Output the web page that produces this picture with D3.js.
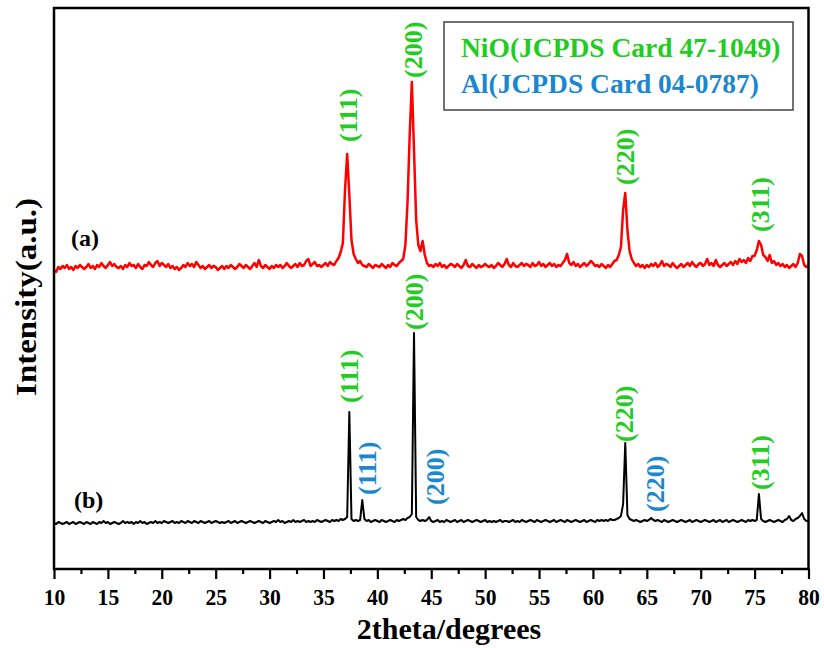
<!DOCTYPE html>
<html><head><meta charset="utf-8">
<script src="https://cdn.jsdelivr.net/npm/d3@7"></script>
<style>
body{margin:0;background:#fff}
svg{display:block}
text{font-family:"Liberation Serif","Times New Roman",serif;font-weight:bold}
</style>
</head><body>
<svg id="chart" width="824" height="648"></svg>
<script>
// ---------------- DATA ----------------
// 2theta scan: start and step of the sampling grid (degrees)
const thetaStart = 10;
const thetaStep = 0.2;

// (a) red pattern, intensity (a.u.), one value per 0.2 deg from 10 to 80
const intensityA = [
 90,86,96,92,98, 94,100,92,96,90, 98,94,100,96,92, 96,102,94,98,92,
 100,96,104,98,94, 100,106,98,102,96, 94,98,92,100,96, 104,98,100,94,102,
 96,92,100,98,106, 100,96,104,108,98, 104,100,96,102,94, 98,92,96,90,94,
 100,96,104,98,102, 96,106,100,94,98, 92,96,100,94,98, 96,90,94,98,92,
 98,94,100,96,92, 96,102,98,94,100, 96,92,98,104,96, 110,98,94,100,96,
 92,98,94,100,96, 100,94,98,104,98, 94,98,102,96,104, 98,100,108,112,98,
 102,106,98,100,96, 100,104,98,106,102, 100,108,114,126,144, 250,322,240,150,122,
 112,104,108,100,98, 96,102,98,94,100, 98,96,102,98,94, 100,96,104,100,98,
 104,108,112,140,226, 360,466,330,190,140, 128,148,120,104,98, 100,96,102,98,104,
 96,100,94,98,102, 100,96,102,98,94, 100,110,98,96,102, 98,94,100,96,98,
 102,98,96,100,94, 98,104,100,96,102, 112,100,96,104,98, 96,100,104,98,102,
 100,96,104,98,100, 106,98,102,96,100, 104,98,102,96,100, 98,104,110,122,104,
 100,106,98,102,96, 100,104,98,102,108, 104,98,100,96,102, 98,94,100,96,102,
 108,110,120,136,210, 244,170,128,112,104, 98,102,96,100,94, 100,96,102,98,104,
 96,100,108,98,102, 100,96,104,98,94, 98,102,96,100,104, 98,106,100,96,102,
 104,98,102,112,100, 104,98,110,100,96, 100,104,98,102,106, 100,108,102,112,106,
 110,104,114,108,118, 118,130,148,140,120, 116,108,120,104,108, 100,104,98,102,96,
 100,94,98,102,96, 104,122,118,100,96, 98
];

// (b) black pattern, intensity (a.u.), one value per 0.2 deg from 10 to 80
const intensityB = [
 92,90,94,92,90, 92,94,90,92,94, 90,92,94,92,90, 94,92,90,94,92,
 90,94,92,96,92, 94,90,92,94,92, 90,92,96,92,94, 92,94,90,94,92,
 96,92,94,90,92, 94,92,96,92,94, 92,96,94,92,94, 96,92,94,92,96,
 94,92,96,94,92, 96,94,92,96,94, 92,94,96,92,94, 96,94,92,94,92,
 94,96,92,94,96, 92,94,96,94,92, 94,96,94,92,94, 96,94,92,96,94,
 92,94,96,94,98, 94,96,92,94,96, 94,98,94,96,94, 96,98,94,96,94,
 96,94,98,96,94, 96,98,96,94,98, 96,98,96,100,98, 100,104,314,100,96,
 98,96,98,138,100, 96,98,94,96,98, 96,94,98,96,94, 96,98,96,94,98,
 96,98,100,98,102, 104,110,472,104,98, 96,98,96,98,104, 96,94,96,98,94,
 96,94,98,96,94, 96,98,94,96,98, 94,96,98,96,94, 96,98,96,94,96,
 98,94,96,94,96, 94,96,98,94,96, 96,94,96,98,94, 96,94,98,96,94,
 96,98,96,94,98, 96,94,96,98,96, 94,96,98,94,96, 98,96,94,98,96,
 94,96,98,96,94, 96,98,94,96,98, 96,94,98,96,98, 96,98,96,100,98,
 98,100,102,106,130, 252,108,100,98,96, 98,96,94,96,98, 96,98,102,98,96,
 98,96,94,98,96, 94,96,98,96,94, 96,98,96,94,96, 98,94,96,98,96,
 94,96,98,96,94, 96,98,94,96,98, 94,96,98,94,96, 98,96,94,96,98,
 96,94,98,96,98, 96,98,150,100,96, 94,96,98,96,94, 96,98,96,94,98,
 100,106,98,96,100, 102,106,112,100,96, 96
];

// vertical offset of pattern (a) above pattern (b), a.u.
const offsetA = 508;

// peak indexing (2theta)
const peaksA = [
  {theta: 37.24, hkl: "(111)", phase: "NiO"},
  {theta: 43.27, hkl: "(200)", phase: "NiO"},
  {theta: 63.0,  hkl: "(220)", phase: "NiO"},
  {theta: 75.5,  hkl: "(311)", phase: "NiO"}
];
const peaksB = [
  {theta: 37.34, hkl: "(111)", phase: "NiO"},
  {theta: 38.5,  hkl: "(111)", phase: "Al"},
  {theta: 43.37, hkl: "(200)", phase: "NiO"},
  {theta: 44.76, hkl: "(200)", phase: "Al"},
  {theta: 62.9,  hkl: "(220)", phase: "NiO"},
  {theta: 65.2,  hkl: "(220)", phase: "Al"},
  {theta: 75.5,  hkl: "(311)", phase: "NiO"}
];

const xTicks = [10,15,20,25,30,35,40,45,50,55,60,65,70,75,80];
const xMinorTicks = [12.5,17.5,22.5,27.5,32.5,37.5,42.5,47.5,52.5,57.5,62.5,67.5,72.5,77.5];
const seriesNames = ["(a)", "(b)"];
const legendLabels = ["NiO(JCPDS Card 47-1049)", "Al(JCPDS Card 04-0787)"];
const legendPhases = ["NiO", "Al"];
const xTitle = "2theta/degrees";
const yTitle = "Intensity(a.u.)";

// ---------------- LAYOUT / STYLE ----------------
const phaseColor = {NiO: "#22cc22", Al: "#1b87cf"};
const gapsA = [12, 4, 8, 9];
const gapsB = [9, 5, 3, 12, 1, 6, 4];
const plot = {left: 54, right: 808.5, top: 8, bottom: 569};

const svg = d3.select("#chart");
const x = d3.scaleLinear().domain([10, 80]).range([plot.left, plot.right]);
const y = d3.scaleLinear().domain([0, 1122]).range([plot.bottom, plot.top]);

const seriesA = intensityA.map((v, i) => ({t: thetaStart + i * thetaStep, v: v + offsetA}));
const seriesB = intensityB.map((v, i) => ({t: thetaStart + i * thetaStep, v: v}));

const line = d3.line().x(d => x(d.t)).y(d => y(d.v));

svg.append("path").datum(seriesB).attr("d", line)
  .attr("fill", "none").attr("stroke", "#000").attr("stroke-width", 2).attr("stroke-linejoin", "round");
svg.append("path").datum(seriesA).attr("d", line)
  .attr("fill", "none").attr("stroke", "#ff0000").attr("stroke-width", 2.5).attr("stroke-linejoin", "round");

// axes
const gx = svg.append("g").attr("transform", `translate(0,${plot.bottom})`);
gx.call(d3.axisBottom(x).tickValues(xTicks).tickSize(10).tickPadding(9).tickFormat(d3.format("d")));
const gxm = svg.append("g").attr("transform", `translate(0,${plot.bottom})`);
gxm.call(d3.axisBottom(x).tickValues(xMinorTicks).tickSize(5).tickFormat(""));
[gx, gxm].forEach(g => {
  g.select(".domain").remove();
  g.selectAll(".tick line").attr("stroke", "#000").attr("stroke-width", 2.2);
});
gx.selectAll(".tick text").attr("fill", "#000").style("font-size", "24px")
  .style("font-family", '"Liberation Serif",serif').style("font-weight", "bold")
  .attr("transform", "scale(0.9,1)");

// frame
svg.append("rect").attr("x", plot.left).attr("y", plot.top)
  .attr("width", plot.right - plot.left).attr("height", plot.bottom - plot.top)
  .attr("fill", "none").attr("stroke", "#000").attr("stroke-width", 2.5);

// axis titles
svg.append("text").attr("x", 449).attr("y", 639)
  .attr("text-anchor", "middle").style("font-size", "30px").text(xTitle);
svg.append("text").attr("transform", "translate(36,297) rotate(-90) scale(1,0.9)")
  .attr("text-anchor", "middle").style("font-size", "33px").text(yTitle);

// series names
svg.append("text").attr("x", 71).attr("y", 246).style("font-size", "24px").text(seriesNames[0]);
svg.append("text").attr("x", 74).attr("y", 508).style("font-size", "24px").text(seriesNames[1]);

// peak labels
function peakTop(series, t) {
  const near = series.filter(d => Math.abs(d.t - t) <= 0.25);
  return d3.max(near, d => d.v);
}
function drawLabels(peaks, series, gaps) {
  peaks.forEach((p, i) => {
    const top = y(peakTop(series, p.theta));
    const cx = x(p.theta) + (p.phase === "Al" ? 6 : 0);
    const by = top - gaps[i];
    svg.append("text")
      .attr("transform", `translate(${cx},${by}) rotate(-90)`)
      .attr("dy", "0.35em")
      .attr("text-anchor", "start")
      .attr("fill", phaseColor[p.phase])
      .style("font-size", "26px")
      .text(p.hkl);
  });
}
drawLabels(peaksA, seriesA, gapsA);
drawLabels(peaksB, seriesB, gapsB);

// legend box
svg.append("rect").attr("x", 444).attr("y", 22).attr("width", 349).attr("height", 88)
  .attr("fill", "#fff").attr("stroke", "#444").attr("stroke-width", 1.5);
legendLabels.forEach((l, i) => {
  svg.append("text").attr("x", 461).attr("y", 57 + i * 36)
    .attr("fill", phaseColor[legendPhases[i]]).style("font-size", "27.5px").text(l);
});
</script>
</body></html>
